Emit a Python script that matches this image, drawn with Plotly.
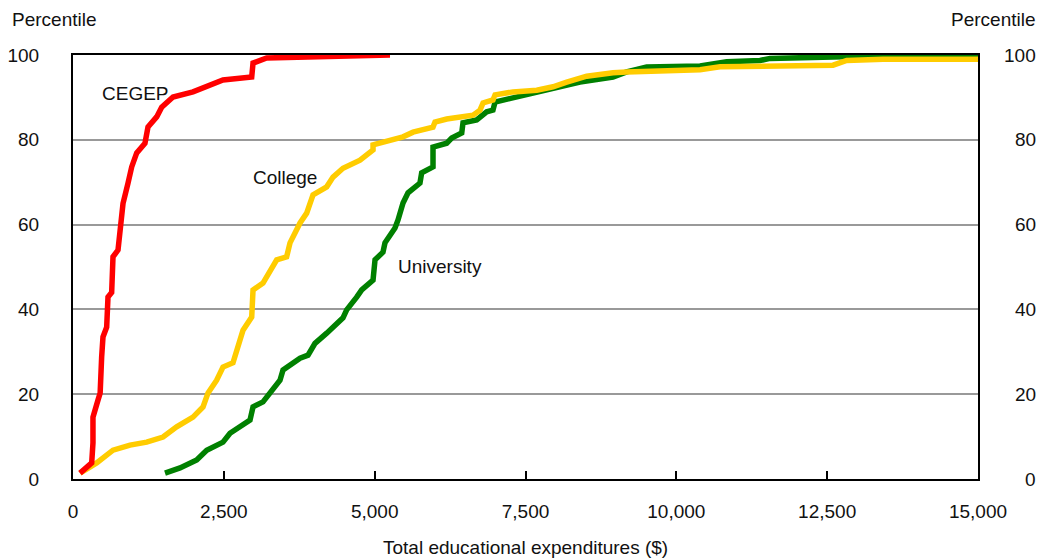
import plotly.graph_objects as go

# CEGEP cumulative distribution
cegep_x = [116, 310, 331, 331, 414, 450, 475, 497, 558, 580, 641, 663, 746, 779, 829, 912, 973,
           1056, 1193, 1243, 1387, 1470, 1658, 1989, 2216, 2486, 2962, 2984, 3210, 3650, 5254]
cegep_p = [1.4, 3.8, 8.5, 14.6, 18.6, 20.3, 28.8, 33.5, 35.8, 42.9, 44, 52.4, 54, 58.7, 65, 69.8, 73.6,
           76.9, 79.2, 83, 85.4, 87.7, 90.1, 91.3, 92.5, 94.1, 94.8, 98.1, 99.3, 99.5, 100]

# College cumulative distribution
college_x = [116, 392, 663, 945, 1221, 1492, 1718, 1989, 2155, 2238, 2381, 2486, 2652, 2713, 2796, 2818,
             2962, 2984, 3149, 3265, 3376, 3541, 3597, 3763, 3873, 3978, 4205, 4310, 4475, 4757, 4973,
             4973, 5304, 5470, 5636, 5967, 6000, 6194, 6630, 6746, 6796, 6961, 6995, 7293, 7686, 7956,
             8183, 8514, 8950, 9177, 10393, 10724, 12597, 12824, 13426, 15000]
college_p = [1.4, 3.8, 6.8, 8, 8.7, 9.9, 12.3, 14.6, 17, 20.3, 23.3, 26.4, 27.4, 30.4, 33.5, 35.1,
             38.2, 44.6, 46.2, 49.3, 51.7, 52.4, 55.7, 60.4, 62.7, 67, 68.9, 71.2, 73.3, 75.2, 77.6,
             78.8, 80, 80.7, 81.8, 83, 84.2, 84.9, 85.8, 87, 88.7, 89.4, 90.6, 91.3, 91.7, 92.5,
             93.6, 95, 95.8, 96, 96.5, 97.2, 97.6, 98.7, 99, 99]

# University cumulative distribution
univ_x = [1525, 1774, 2050, 2216, 2486, 2602, 2934, 2984, 3149, 3315, 3431, 3481, 3763, 3895, 4011,
          4205, 4343, 4475, 4536, 4641, 4702, 4785, 4973, 5006, 5138, 5171, 5337, 5387, 5470, 5553,
          5751, 5779, 5967, 5967, 6194, 6277, 6443, 6464, 6691, 6856, 6961, 6995, 7293, 7686, 7956,
          8403, 8950, 9177, 9508, 10393, 10835, 11387, 11553, 12763, 13487, 15000]
univ_p = [1.4, 2.6, 4.5, 6.8, 8.7, 10.8, 13.9, 17, 18.2, 21, 23.3, 25.7, 28.5, 29.2, 32,
          34.4, 36.3, 38, 39.9, 41.5, 42.9, 44.6, 46.9, 51.7, 53.5, 55.7, 59.2, 61.1, 65.1, 67.5,
          69.8, 72.2, 73.6, 78.3, 79.2, 80.4, 81.6, 84, 84.7, 86.6, 87, 88.9, 89.9, 91, 92.2,
          93.6, 94.8, 96, 97.2, 97.4, 98.4, 98.7, 99.2, 99.6, 99.8, 99.8]

x_ticks = [0, 2500, 5000, 7500, 10000, 12500, 15000]
x_ticklabels = ["0", "2,500", "5,000", "7,500", "10,000", "12,500", "15,000"]
y_ticks = [0, 20, 40, 60, 80, 100]
y_ticklabels = ["0", "20", "40", "60", "80", "100"]

series_labels = ["CEGEP", "College", "University"]
label_x = [1028, 3514, 6083]
label_p = [91, 71.2, 50.2]

FONT = "Liberation Sans, Arial, sans-serif"
FS = 19

fig = go.Figure()
fig.add_trace(go.Scatter(x=univ_x, y=univ_p, mode="lines",
                         line=dict(color="#008000", width=5.5), name="University"))
fig.add_trace(go.Scatter(x=college_x, y=college_p, mode="lines",
                         line=dict(color="#FFCC00", width=5.5), name="College"))
fig.add_trace(go.Scatter(x=cegep_x, y=cegep_p, mode="lines",
                         line=dict(color="#FF0000", width=5.5), name="CEGEP"))

for t, lx, lp in zip(series_labels, label_x, label_p):
    fig.add_annotation(x=lx, y=lp, text=t, showarrow=False,
                       font=dict(family=FONT, size=FS, color="#111"))

# right-side tick labels (right aligned at the page edge)
for v, lab in zip(y_ticks, y_ticklabels):
    fig.add_annotation(x=1.0, xref="paper", xshift=60, y=v, yref="y", text=lab,
                       showarrow=False, xanchor="right",
                       font=dict(family=FONT, size=FS, color="#111"))

fig.add_annotation(x=0, xref="paper", xshift=-63, y=1, yref="paper", yshift=48,
                   text="Percentile", showarrow=False, xanchor="left",
                   font=dict(family=FONT, size=FS, color="#111"))
fig.add_annotation(x=1, xref="paper", xshift=60, y=1, yref="paper", yshift=48,
                   text="Percentile", showarrow=False, xanchor="right",
                   font=dict(family=FONT, size=FS, color="#111"))
fig.add_annotation(x=0.5, xref="paper", y=0, yref="paper", yshift=-81,
                   text="Total educational expenditures ($)", showarrow=False,
                   font=dict(family=FONT, size=FS, color="#111"))

fig.update_layout(
    width=1040, height=558,
    margin=dict(l=73, r=62, t=55, b=79, autoexpand=False),
    paper_bgcolor="white", plot_bgcolor="white",
    showlegend=False,
    font=dict(family=FONT, size=FS, color="#111"),
    xaxis=dict(range=[0, 15000], tickvals=x_ticks, ticktext=x_ticklabels,
               ticks="inside", ticklen=8, tickwidth=2, tickcolor="black",
               showgrid=False, zeroline=False,
               showline=True, linecolor="black", linewidth=2, mirror=True,
               ticklabelstandoff=14),
    yaxis=dict(range=[0, 100], tickvals=y_ticks, ticktext=y_ticklabels,
               ticks="", showgrid=True, gridcolor="#999", gridwidth=2,
               zeroline=False, showline=True, linecolor="black", linewidth=2,
               mirror=True, ticklabelstandoff=28),
)

fig.write_html("out.html", config={"displayModeBar": False},
               post_script="document.body.style.margin='0';document.body.style.overflow='hidden';")
